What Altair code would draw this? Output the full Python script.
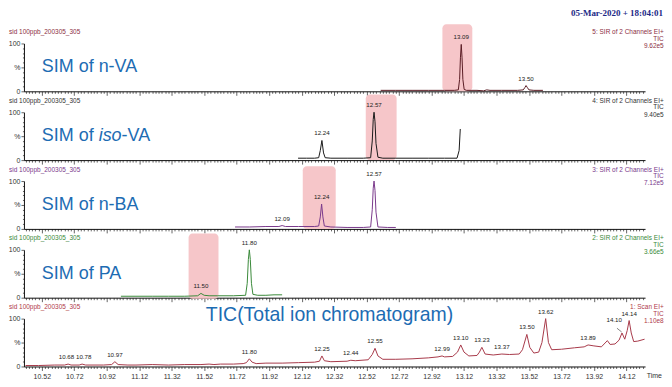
import altair as alt
import pandas as pd

FONT = "Liberation Sans"
X_DOMAIN = [10.41, 14.235]
W, H = 623, 48

# ---------------- data ----------------
# Panel 1: SIM of n-VA (channel 5)
nva_t = [12.607, 12.70, 12.80, 12.90, 13.00, 13.06, 13.085, 13.093, 13.098, 13.103, 13.108, 13.113, 13.121,
         13.135, 13.20, 13.24, 13.26, 13.28, 13.35, 13.45, 13.485, 13.495, 13.502, 13.51, 13.52, 13.55, 13.606]
nva_i = [2, 2, 2, 2, 2, 2, 3, 25, 70, 98, 70, 25, 4, 2, 2, 1, 3, 2, 2, 2, 3, 8, 12, 8, 3, 2, 2]
nva_pk_t = [13.103, 13.502]
nva_pk_i = [98, 12]
nva_pk_lbl = ["13.09", "13.50"]
nva_box = [12.987, 13.171, 0, 140]

# Panel 2: SIM of iso-VA (channel 4)
iva_t = [12.098, 12.15, 12.20, 12.225, 12.235, 12.245, 12.255, 12.265, 12.30, 12.40, 12.50, 12.545, 12.555,
         12.561, 12.566, 12.572, 12.578, 12.59, 12.62, 12.70, 12.80, 12.90, 13.00, 13.077, 13.090, 13.097]
iva_i = [4, 4, 4, 5, 20, 41, 15, 5, 4, 4, 4, 5, 40, 85, 100, 80, 35, 6, 4, 4, 4, 4, 4, 4, 20, 65]
iva_pk_t = [12.245, 12.566]
iva_pk_i = [41, 100]
iva_pk_lbl = ["12.24", "12.57"]
iva_box = [12.515, 12.705, 0, 137]

# Panel 3: SIM of n-BA (channel 3)
nba_t = [11.71, 11.80, 11.90, 11.98, 12.00, 12.02, 12.10, 12.20, 12.225, 12.235, 12.243, 12.251, 12.26, 12.30,
         12.40, 12.50, 12.545, 12.555, 12.561, 12.566, 12.572, 12.578, 12.59, 12.65, 12.70]
nba_i = [4, 4, 5, 5, 7, 5, 5, 5, 6, 25, 52, 25, 6, 4, 3, 3, 4, 40, 85, 100, 80, 35, 4, 3, 3]
nba_pk_t = [12.00, 12.243, 12.566]
nba_pk_i = [7, 52, 100]
nba_pk_lbl = ["12.09", "12.24", "12.57"]
nba_box = [12.127, 12.33, 0, 131]

# Panel 4: SIM of PA (channel 2)
pa_t = [11.007, 11.10, 11.20, 11.30, 11.40, 11.48, 11.50, 11.52, 11.55, 11.60, 11.70, 11.775, 11.785, 11.792,
        11.798, 11.804, 11.811, 11.82, 11.85, 11.90, 11.95, 12.00]
pa_i = [3, 3, 3, 3, 3, 4, 9, 5, 4, 4, 4, 5, 30, 80, 100, 80, 30, 7, 5, 5, 6, 6]
pa_pk_t = [11.50, 11.798]
pa_pk_i = [9, 100]
pa_pk_lbl = ["11.50", "11.80"]
pa_box = [11.424, 11.608, -2, 134]

# Panel 5: TIC (scan)
tic_t = [10.42, 10.50, 10.60, 10.66, 10.682, 10.70, 10.75, 10.768, 10.79, 10.90, 10.95, 10.97, 10.99, 11.05,
         11.10, 11.20, 11.30, 11.40, 11.50, 11.55, 11.58, 11.62, 11.70, 11.76, 11.78, 11.798, 11.815, 11.84,
         11.90, 12.00, 12.10, 12.20, 12.23, 12.245, 12.26, 12.30, 12.40, 12.423, 12.45, 12.53, 12.555, 12.572,
         12.59, 12.62, 12.70, 12.80, 12.90, 12.96, 12.985, 13.00, 13.05, 13.08, 13.10, 13.12, 13.15, 13.20,
         13.215, 13.23, 13.25, 13.30, 13.353, 13.40, 13.46, 13.48, 13.507, 13.525, 13.55, 13.58, 13.60, 13.623,
         13.64, 13.66, 13.72, 13.80, 13.86, 13.884, 13.92, 13.966, 14.003, 14.02, 14.05, 14.075, 14.093, 14.11,
         14.125, 14.137, 14.15, 14.165, 14.19, 14.232]
tic_i = [2, 2, 3, 3, 5, 3, 3, 5, 3, 3, 4, 10, 4, 3,
         3, 4, 3, 4, 4, 5, 4, 5, 5, 6, 8, 16, 9, 6,
         7, 7, 8, 9, 11, 22, 12, 10, 11, 13, 12, 14, 25, 38,
         22, 15, 15, 16, 18, 20, 22, 20, 21, 30, 45, 30, 22, 23,
         30, 40, 26, 24, 26, 25, 26, 35, 67, 40, 28, 30, 50, 100,
         50, 35, 36, 39, 41, 45, 43, 41, 54, 46, 47, 55, 70, 57,
         75, 96, 70, 52, 53, 57]
tic_pk_t = [10.672, 10.778, 10.97, 11.798, 12.245, 12.423, 12.572, 12.985, 13.10, 13.23, 13.353, 13.507,
            13.623, 13.884, 14.045, 14.137]
tic_pk_i = [5, 5, 10, 16, 22, 13, 38, 22, 45, 40, 26, 67, 100, 45, 82, 96]
tic_pk_lbl = ["10.68", "10.78", "10.97", "11.80", "12.25", "12.44", "12.55", "12.99", "13.10", "13.23",
              "13.37", "13.50", "13.62", "13.89", "14.10", "14.14"]
tic_leader = [14.062, 14.091, 80, 72]

sample_name = "sid 100ppb_200305_305"
date_text = "05-Mar-2020 + 18:04:01"

# ---------------- styling ----------------
xs = alt.Scale(domain=X_DOMAIN, nice=False, zero=False)
ys = alt.Scale(domain=[0, 100], nice=False, zero=False)
x_ticks = [round(10.42 + 0.02 * k, 2) for k in range(191)]
MAJOR = "abs(round((datum.value - 10.52) * 50)) % 10 == 0"


def x_axis(labels):
    return alt.Axis(
        values=x_ticks, title=None, grid=False, labels=labels,
        labelExpr=f"({MAJOR}) ? format(datum.value, '.2f') : ''",
        labelFontSize=7, labelFont=FONT, labelColor="#333", labelPadding=2,
        tickSize={"condition": {"test": MAJOR, "value": 4}, "value": 2},
        tickColor="#222", domainColor="#111", domainWidth=1, tickWidth=0.7,
        labelOverlap=False, labelFlush=False,
    )


y_axis = alt.Axis(
    values=list(range(0, 101, 10)), title=None, grid=False,
    labelExpr="datum.value == 100 ? '100' : datum.value == 50 ? '%' : datum.value == 0 ? '0' : ''",
    labelFontSize=7, labelFont=FONT, labelColor="#333", labelPadding=1,
    tickSize={"condition": {"test": "datum.value % 50 == 0", "value": 3}, "value": 1.5},
    tickColor="#222", domainColor="#111", domainWidth=1, tickWidth=0.7,
)


def panel(t, inten, color, txt_color, pk_t, pk_i, pk_lbl, box, label_parts, label_t, label_y, label_size,
          ann, bottom=False, extra_layers=()):
    xa = x_axis(bottom)
    X = lambda f: alt.X(f, scale=xs, axis=xa)
    Y = lambda f: alt.Y(f, scale=ys, axis=y_axis)

    layers = []
    if box is not None:
        bdf = pd.DataFrame({"t": [box[0]], "t2": [box[1]], "i": [box[2]], "i2": [box[3]]})
        layers.append(alt.Chart(bdf).mark_rect(color="#f5c3c6", cornerRadius=4, opacity=0.95).encode(
            x=X("t:Q"), x2="t2:Q", y=Y("i:Q"), y2="i2:Q"))

    ldf = pd.DataFrame({"t": t, "i": inten})
    layers.append(alt.Chart(ldf).mark_line(color=color, strokeWidth=1).encode(
        x=X("t:Q"), y=Y("i:Q"), order="t:Q"))

    pdf = pd.DataFrame({"t": pk_t, "i": pk_i, "s": pk_lbl})
    layers.append(alt.Chart(pdf).mark_text(fontSize=6.2, font=FONT, color="#222", dy=-4,
                                           baseline="bottom").encode(
        x=X("t:Q"), y=Y("i:Q"), text="s:N"))

    # big blue label (possibly with an italic part)
    for part, dx, style in label_parts:
        tdf = pd.DataFrame({"t": [label_t], "i": [label_y], "s": [part]})
        layers.append(alt.Chart(tdf).mark_text(
            align="left", baseline="middle", fontSize=label_size, font=FONT,
            color="#1d6cb3", dx=dx, fontStyle=style).encode(
            x=X("t:Q"), y=Y("i:Q"), text="s:N"))

    # sample name (left) and channel info (right)
    sdf = pd.DataFrame({"t": [10.41], "i": [124], "s": [sample_name]})
    layers.append(alt.Chart(sdf).mark_text(align="left", baseline="middle", fontSize=6.5, font=FONT,
                                           color=txt_color, dx=-15).encode(
        x=X("t:Q"), y=Y("i:Q"), text="s:N"))
    adf = pd.DataFrame({"t": [14.35] * 3, "i": [124, 110, 95], "s": ann})
    layers.append(alt.Chart(adf).mark_text(align="right", baseline="middle", fontSize=6.5, font=FONT,
                                           color=txt_color).encode(
        x=X("t:Q"), y=Y("i:Q"), text="s:N"))

    for lay in extra_layers:
        layers.append(lay(X, Y))

    return alt.layer(*layers).properties(width=W, height=H)


def date_layer(X, Y):
    df = pd.DataFrame({"t": [14.345], "i": [163], "s": [date_text]})
    return alt.Chart(df).mark_text(align="right", baseline="middle", fontSize=9,
                                   font="Liberation Serif", fontWeight="bold", color="#1c2a86").encode(
        x=X("t:Q"), y=Y("i:Q"), text="s:N")


def leader_layer(X, Y):
    df = pd.DataFrame({"t": [tic_leader[0]], "t2": [tic_leader[1]], "i": [tic_leader[2]], "i2": [tic_leader[3]]})
    return alt.Chart(df).mark_rule(color="#333", strokeWidth=0.6).encode(
        x=X("t:Q"), x2="t2:Q", y=Y("i:Q"), y2="i2:Q")


def time_layer(X, Y):
    df = pd.DataFrame({"t": [14.245], "i": [-19], "s": ["Time"]})
    return alt.Chart(df).mark_text(align="left", baseline="middle", fontSize=7, font=FONT,
                                   color="#333").encode(x=X("t:Q"), y=Y("i:Q"), text="s:N")


p1 = panel(nva_t, nva_i, "#5a1c24", "#8c2f3f", nva_pk_t, nva_pk_i, nva_pk_lbl, nva_box,
           [("SIM of n-VA", 0, "normal")], 10.52, 50, 18,
           ["5: SIR of 2 Channels EI+", "TIC", "9.62e5"], extra_layers=[date_layer])
p2 = panel(iva_t, iva_i, "#1a1a1a", "#333333", iva_pk_t, iva_pk_i, iva_pk_lbl, iva_box,
           [("SIM of ", 0, "normal"), ("iso", 57, "italic"), ("-VA", 80, "normal")], 10.52, 50, 18,
           ["4: SIR of 2 Channels EI+", "TIC", "9.40e5"])
p3 = panel(nba_t, nba_i, "#7a3a8c", "#7a3a8c", nba_pk_t, nba_pk_i, nba_pk_lbl, nba_box,
           [("SIM of n-BA", 0, "normal")], 10.52, 50, 18,
           ["3: SIR of 2 Channels EI+", "TIC", "7.12e5"])
p4 = panel(pa_t, pa_i, "#3a8a3a", "#3a8a3a", pa_pk_t, pa_pk_i, pa_pk_lbl, pa_box,
           [("SIM of PA", 0, "normal")], 10.52, 50, 18,
           ["2: SIR of 2 Channels EI+", "TIC", "3.66e5"])
p5 = panel(tic_t, tic_i, "#a83a4a", "#b03a4a", tic_pk_t, tic_pk_i, tic_pk_lbl, None,
           [("TIC(Total ion chromatogram)", 0, "normal")], 11.53, 108, 19.5,
           ["1: Scan EI+", "TIC", "1.10e8"], bottom=True, extra_layers=[leader_layer, time_layer])

chart = alt.vconcat(p1, p2, p3, p4, p5, spacing=21, bounds="flush").properties(
    padding={"left": 0, "top": 0, "right": 0, "bottom": 0}
).configure_view(stroke=None).configure_concat(spacing=21)

chart.save("out.html", embed_options={"renderer": "svg", "actions": False})
